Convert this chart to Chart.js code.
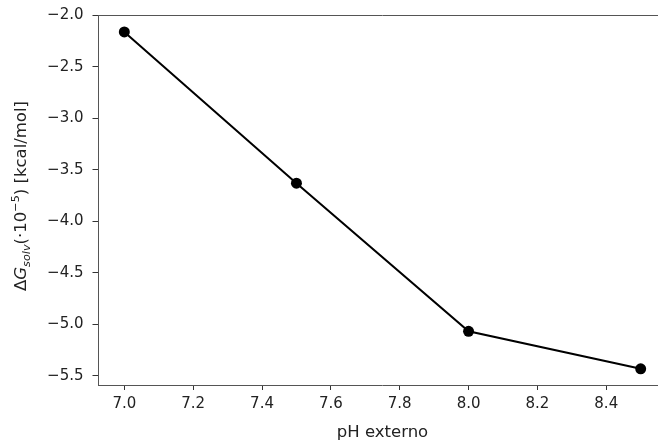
<!DOCTYPE html>
<html>
<head>
<meta charset="utf-8">
<script src="https://cdn.jsdelivr.net/npm/chart.js@4/dist/chart.umd.min.js"></script>
<style>
html,body{margin:0;padding:0;background:#fff;overflow:hidden;}
#wrap{position:relative;width:672px;height:443px;}
</style>
</head>
<body>
<div id="wrap"><canvas id="c" width="672" height="443"></canvas></div>
<script>
const phValues = [7.0, 7.5, 8.0, 8.5];
const dGsolv = [-2.162, -3.631, -5.069, -5.433];
const xTickValues = [7.0, 7.2, 7.4, 7.6, 7.8, 8.0, 8.2, 8.4];
const yTickValues = [-5.5, -5.0, -4.5, -4.0, -3.5, -3.0, -2.5, -2.0];
const xTitle = 'pH externo';

const FONT = 'DejaVu Sans';
const TICK_SIZE = 15;
const LABEL_SIZE = 16.5;
const fmt = v => v.toFixed(1).replace('-', '\u2212');

const topSpine = {
  id: 'topSpine',
  afterDraw(chart) {
    const {ctx, chartArea} = chart;
    ctx.save();
    ctx.strokeStyle = '#555';
    ctx.lineWidth = 1;
    ctx.beginPath();
    ctx.moveTo(chartArea.left, chartArea.top + 0.5);
    ctx.lineTo(chartArea.right, chartArea.top + 0.5);
    ctx.stroke();
    // y-axis title with math formatting
    const cy = (chartArea.top + chartArea.bottom) / 2 - 4;
    ctx.translate(20, cy);
    ctx.rotate(-Math.PI / 2);
    ctx.fillStyle = '#222';
    ctx.textBaseline = 'alphabetic';
    const s = LABEL_SIZE, ss = LABEL_SIZE * 0.68;
    const parts = [
      {t: '\u0394', f: `${s}px "${FONT}"`, dy: 0},
      {t: 'G', f: `italic ${s}px "${FONT}"`, dy: 0},
      {t: 'solv', f: `italic ${ss}px "${FONT}"`, dy: 3.5},
      {t: '(\u00B710', f: `${s}px "${FONT}"`, dy: 0},
      {t: '\u22125', f: `${ss}px "${FONT}"`, dy: -7},
      {t: ') [kcal/mol]', f: `${s}px "${FONT}"`, dy: 0}
    ];
    let total = 0;
    parts.forEach(p => { ctx.font = p.f; p.w = ctx.measureText(p.t).width; total += p.w; });
    let x = -total / 2;
    parts.forEach(p => { ctx.font = p.f; ctx.fillText(p.t, x, 6 + p.dy); x += p.w; });
    ctx.restore();
  }
};

new Chart(document.getElementById('c'), {
  type: 'line',
  data: {
    datasets: [{
      data: phValues.map((x, i) => ({x, y: dGsolv[i]})),
      borderColor: '#000',
      backgroundColor: '#000',
      borderWidth: 2,
      pointRadius: 5.5,
      pointHoverRadius: 5.5,
      pointBackgroundColor: '#000',
      pointBorderWidth: 0,
      tension: 0,
      fill: false
    }]
  },
  options: {
    responsive: false,
    animation: false,
    events: [],
    layout: {padding: {top: 15, right: 5, left: 0, bottom: 0}},
    plugins: {legend: {display: false}, tooltip: {enabled: false}},
    scales: {
      x: {
        type: 'linear',
        min: 6.925, max: 8.575,
        afterBuildTicks: a => { a.ticks = xTickValues.map(v => ({value: v})); },
        afterFit: a => { a.height = 58; a.paddingLeft = 0; a.paddingRight = 0; },
        border: {display: true, color: '#555', width: 1},
        grid: {drawOnChartArea: false, drawTicks: true, tickLength: 5, tickColor: '#333'},
        ticks: {
          callback: v => fmt(v),
          color: '#222',
          font: {family: FONT, size: TICK_SIZE},
          padding: 5,
          maxRotation: 0,
          autoSkip: false
        },
        title: {display: true, text: xTitle, color: '#222', font: {family: FONT, size: LABEL_SIZE}, padding: {top: 2, bottom: 0}}
      },
      y: {
        type: 'linear',
        min: -5.59, max: -1.998,
        afterBuildTicks: a => { a.ticks = yTickValues.map(v => ({value: v})); },
        afterFit: a => { a.width = 98.5; a.paddingTop = 0; a.paddingBottom = 0; },
        border: {display: true, color: '#555', width: 1},
        grid: {drawOnChartArea: false, drawTicks: true, tickLength: 6, tickColor: '#333'},
        ticks: {
          callback: v => fmt(v),
          color: '#222',
          font: {family: FONT, size: TICK_SIZE},
          padding: 9,
          autoSkip: false
        },
        title: {display: false, text: '\u0394Gsolv(\u00B710\u207B\u2075) [kcal/mol]'}
      }
    }
  },
  plugins: [topSpine]
});
</script>
</body>
</html>
